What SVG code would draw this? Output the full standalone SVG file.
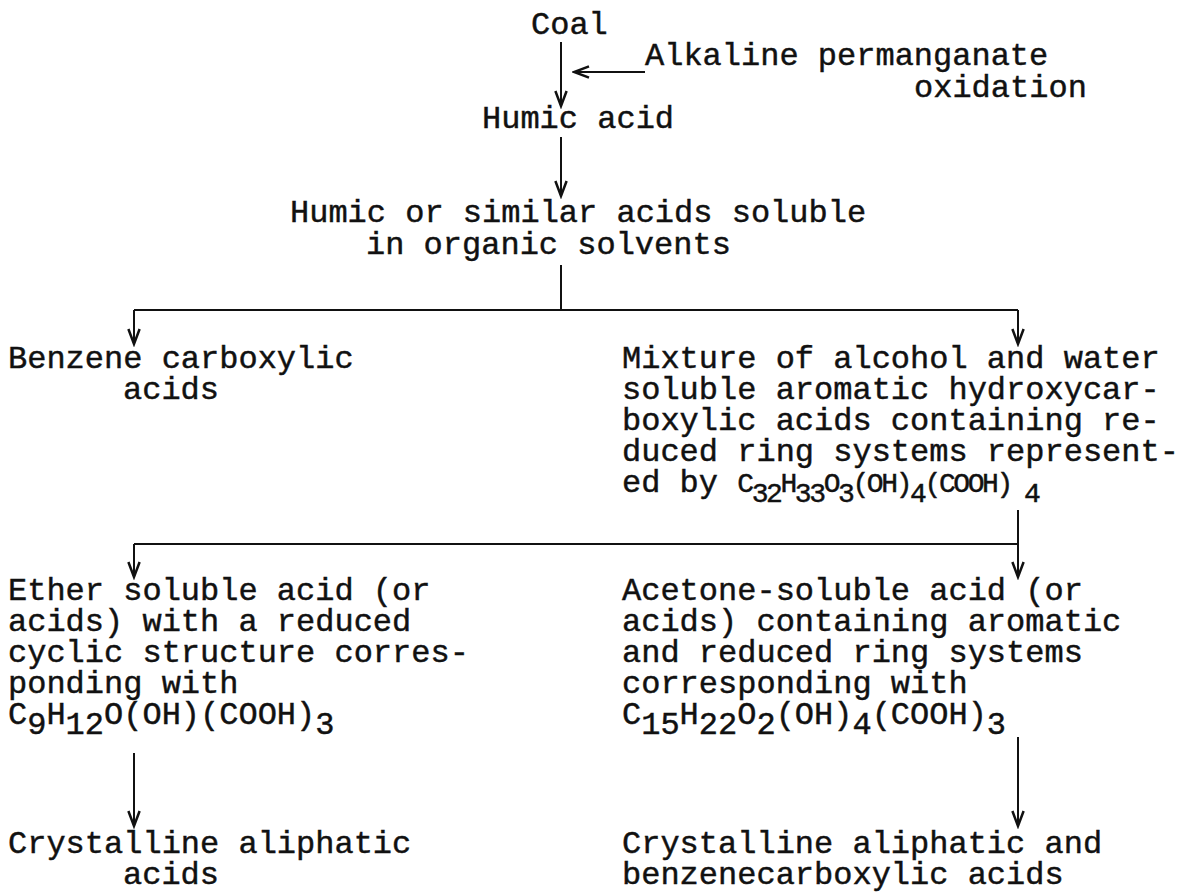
<svg xmlns="http://www.w3.org/2000/svg" width="1183" height="892" viewBox="0 0 1183 892">
<style>
text{font-family:"Liberation Mono","Courier New",monospace;font-size:32px;fill:#111;stroke:#111;stroke-width:0.45px;}
.f{font-size:28px;letter-spacing:-2.4px;}
.c{stroke:#111;stroke-width:2;fill:none;}
</style>
<defs>
<marker id="ah" markerUnits="userSpaceOnUse" markerWidth="20" markerHeight="20" viewBox="-14 -8 16 16" refX="0" refY="0" orient="auto">
<path d="M-12,-4.5 L0,0 L-12,4.5" fill="none" stroke="#111" stroke-width="2"/>
</marker>
</defs>
<g id="connectors">
<path class="c" d="M561,42 V106" marker-end="url(#ah)"/>
<path class="c" d="M645,72 H574" marker-end="url(#ah)"/>
<path class="c" d="M561,137 V196" marker-end="url(#ah)"/>
<path class="c" d="M561,265 V310 M134,310 H1018"/>
<path class="c" d="M134,310 V344" marker-end="url(#ah)"/>
<path class="c" d="M1018,310 V344" marker-end="url(#ah)"/>
<path class="c" d="M1018,510 V544 M134,544 H1018"/>
<path class="c" d="M134,544 V577" marker-end="url(#ah)"/>
<path class="c" d="M1018,544 V577" marker-end="url(#ah)"/>
<path class="c" d="M134,753 V826" marker-end="url(#ah)"/>
<path class="c" d="M1018,737 V826" marker-end="url(#ah)"/>
</g>
<g id="coal"><text x="531" y="34">Coal</text></g>
<g id="oxidant"><text><tspan x="645" y="65">Alkaline permanganate</tspan><tspan x="914" y="97">oxidation</tspan></text></g>
<g id="humic-acid"><text x="482" y="128">Humic acid</text></g>
<g id="humic-soluble"><text><tspan x="290" y="222">Humic or similar acids soluble</tspan><tspan x="366" y="254">in organic solvents</tspan></text></g>
<g id="benzene-acids"><text><tspan x="8" y="368">Benzene carboxylic</tspan><tspan x="123" y="399">acids</tspan></text></g>
<g id="mixture">
<text><tspan x="622" y="368">Mixture of alcohol and water</tspan><tspan x="622" y="399">soluble aromatic hydroxycar-</tspan><tspan x="622" y="430">boxylic acids containing re-</tspan><tspan x="622" y="461">duced ring systems represent-</tspan><tspan x="622" y="492">ed by </tspan><tspan class="f">C</tspan><tspan class="f" y="502">32</tspan><tspan class="f" y="492">H</tspan><tspan class="f" y="502">33</tspan><tspan class="f" y="492">O</tspan><tspan class="f" y="502">3</tspan><tspan class="f" y="492">(OH)</tspan><tspan class="f" y="502">4</tspan><tspan class="f" y="492">(COOH)</tspan><tspan class="f" x="1024" y="502">4</tspan></text>
</g>
<g id="ether">
<text><tspan x="8" y="600">Ether soluble acid (or</tspan><tspan x="8" y="631">acids) with a reduced</tspan><tspan x="8" y="662">cyclic structure corres-</tspan><tspan x="8" y="693">ponding with</tspan><tspan x="8" y="724">C</tspan><tspan y="734">9</tspan><tspan y="724">H</tspan><tspan y="734">12</tspan><tspan y="724">O(OH)(COOH)</tspan><tspan y="734">3</tspan></text>
</g>
<g id="acetone">
<text><tspan x="622" y="600">Acetone-soluble acid (or</tspan><tspan x="622" y="631">acids) containing aromatic</tspan><tspan x="622" y="662">and reduced ring systems</tspan><tspan x="622" y="693">corresponding with</tspan><tspan x="622" y="724">C</tspan><tspan y="734">15</tspan><tspan y="724">H</tspan><tspan y="734">22</tspan><tspan y="724">O</tspan><tspan y="734">2</tspan><tspan y="724">(OH)</tspan><tspan y="734">4</tspan><tspan y="724">(COOH)</tspan><tspan y="734">3</tspan></text>
</g>
<g id="cryst-aliphatic"><text><tspan x="8" y="853">Crystalline aliphatic</tspan><tspan x="123" y="884">acids</tspan></text></g>
<g id="cryst-benzene"><text><tspan x="622" y="853">Crystalline aliphatic and</tspan><tspan x="622" y="884">benzenecarboxylic acids</tspan></text></g>
</svg>
